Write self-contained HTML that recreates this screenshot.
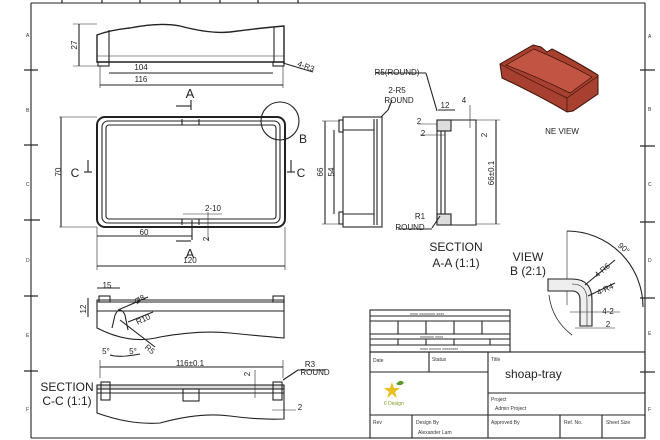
<!DOCTYPE html>
<html><head><meta charset="utf-8"><style>
html,body{margin:0;padding:0;background:#fff;}
svg{display:block;font-family:"Liberation Sans",sans-serif;}
</style></head><body>
<svg width="660" height="440" viewBox="0 0 660 440" xmlns="http://www.w3.org/2000/svg">
<rect width="660" height="440" fill="#fff"/>
<g stroke="#222" fill="none" stroke-width="1.1">
<!-- frame -->
<line x1="31" y1="3" x2="31" y2="438"/>
<line x1="31" y1="3" x2="645" y2="3"/>
<line x1="645" y1="3" x2="645" y2="438"/>
<line x1="31" y1="438" x2="645" y2="438"/>
<g stroke-width="1.2">
<line x1="24" y1="70" x2="38" y2="70"/><line x1="24" y1="145" x2="38" y2="145"/><line x1="24" y1="220" x2="40" y2="220"/>
<line x1="24" y1="296" x2="38" y2="296"/><line x1="24" y1="371" x2="38" y2="371"/>
<line x1="640" y1="70" x2="655" y2="70"/><line x1="640" y1="146" x2="655" y2="146"/><line x1="640" y1="222" x2="655" y2="222"/>
<line x1="640" y1="298" x2="655" y2="298"/><line x1="640" y1="372" x2="655" y2="372"/>
<line x1="62" y1="0" x2="62" y2="3"/><line x1="102" y1="0" x2="102" y2="3"/><line x1="140" y1="0" x2="140" y2="3"/><line x1="180" y1="0" x2="180" y2="3"/><line x1="220" y1="0" x2="220" y2="3"/><line x1="258" y1="0" x2="258" y2="3"/><line x1="298" y1="0" x2="298" y2="3"/>
</g>
<!-- top side view -->
<path d="M97 62 V35 Q110 30 130 28 Q160 22 180 26 Q210 34 230 32 Q260 28 284 26 V62 Z" stroke-width="1.4"/>
<line x1="109" y1="30" x2="109" y2="62"/><line x1="274" y1="27" x2="274" y2="62"/>
<rect x="98" y="62" width="11" height="4"/><rect x="273" y="62" width="11" height="4"/>
<line x1="97" y1="56" x2="284" y2="56" stroke-width=".6"/>
<line x1="73" y1="24" x2="97" y2="24" stroke-width=".6"/><line x1="73" y1="66" x2="98" y2="66" stroke-width=".6"/>
<line x1="79" y1="24" x2="79" y2="66"/>
<line x1="109" y1="73" x2="273" y2="73"/><line x1="100" y1="85" x2="283" y2="85"/>
<line x1="100" y1="66" x2="100" y2="88" stroke-width=".6"/><line x1="283" y1="66" x2="283" y2="88" stroke-width=".6"/>
<line x1="283" y1="63" x2="313" y2="72"/>
<!-- plan view -->
<rect x="97" y="117" width="188" height="110" rx="8" stroke-width="2"/>
<rect x="102" y="121" width="178" height="102" rx="6"/>
<rect x="106" y="125" width="170" height="94" rx="3"/>
<path d="M182 119 V125 H199 V119"/><path d="M182 225 V219 H199 V225"/>
<line x1="59" y1="117" x2="97" y2="117" stroke-width=".6"/><line x1="59" y1="227" x2="97" y2="227" stroke-width=".6"/>
<line x1="61" y1="117" x2="61" y2="227"/>
<line x1="97" y1="236" x2="192" y2="236"/><line x1="97" y1="227" x2="97" y2="270" stroke-width=".6"/><line x1="285" y1="227" x2="285" y2="270" stroke-width=".6"/>
<line x1="97" y1="266" x2="285" y2="266"/>
<line x1="192" y1="220" x2="192" y2="240"/><line x1="183" y1="214" x2="222" y2="214" stroke-width=".6"/>
<line x1="208" y1="212" x2="208" y2="240" stroke-width=".6"/>
<line x1="176" y1="106" x2="191" y2="106"/><line x1="191" y1="100" x2="191" y2="110"/>
<line x1="176" y1="241" x2="191" y2="241"/>
<line x1="88" y1="160" x2="88" y2="172"/><line x1="84" y1="172" x2="92" y2="172"/>
<line x1="291" y1="160" x2="291" y2="172"/><line x1="287" y1="172" x2="295" y2="172"/>
<circle cx="280" cy="121" r="19"/>
<!-- side elevation -->
<rect x="343" y="117" width="39" height="110"/>
<rect x="339" y="120" width="4" height="12"/><rect x="339" y="212" width="4" height="12"/>
<line x1="374" y1="119" x2="374" y2="225"/><line x1="377" y1="119" x2="377" y2="225"/>
<line x1="343" y1="130" x2="374" y2="130"/><line x1="343" y1="214" x2="374" y2="214"/>
<line x1="322" y1="121" x2="340" y2="121" stroke-width=".6"/><line x1="322" y1="224" x2="340" y2="224" stroke-width=".6"/>
<line x1="325" y1="121" x2="325" y2="224"/><line x1="334" y1="130" x2="334" y2="214"/>
<line x1="381" y1="117" x2="388" y2="110"/><line x1="388" y1="110" x2="392" y2="100"/>
<!-- section A-A -->
<path d="M437 120 H476 V225 H437 Z"/>
<path d="M441 120 V225 M445 131 V219" />
<rect x="437" y="120" width="14" height="11" fill="#ddd"/>
<rect x="437" y="214" width="14" height="11" fill="#ddd"/>
<line x1="441" y1="131" x2="445" y2="131"/>
<line x1="496" y1="120" x2="496" y2="224"/><line x1="476" y1="120" x2="500" y2="120" stroke-width=".6"/><line x1="476" y1="224" x2="500" y2="224" stroke-width=".6"/>
<line x1="438" y1="110" x2="455" y2="110"/><line x1="470" y1="105" x2="470" y2="128" stroke-width=".6"/>
<line x1="418" y1="124" x2="437" y2="124" stroke-width=".6"/><line x1="420" y1="135" x2="445" y2="135" stroke-width=".6"/>
<line x1="426" y1="73" x2="437" y2="111"/><line x1="376" y1="73" x2="426" y2="73"/>
<line x1="440" y1="216" x2="432" y2="228"/><line x1="398" y1="229" x2="432" y2="229"/>
<!-- NE view 3D -->
<path d="M500 64 L533 45 L541 47 L547 52 L552 49 Q570 58 598 75 V94 L573 111 L567 112 Q540 96 502 78 Z" fill="#a8402f" stroke="#3a120c" stroke-width="1"/>
<path d="M506 65 L534 49 Q565 62 592 77 L570 93 Q540 78 506 65 Z" fill="#c25443" stroke="#3a120c" stroke-width=".7"/>
<path d="M500 64 Q530 80 567 98 L598 76" stroke="#3a120c" stroke-width=".7"/>
<line x1="567" y1="98" x2="567" y2="112" stroke="#3a120c" stroke-width=".7"/>
<!-- View B -->
<path d="M567 231 A76 76 0 0 1 643 307"/>
<path d="M549 295 Q552 320 572 335" stroke-width=".8"/>
<line x1="567" y1="231" x2="567" y2="305" stroke-width=".6"/>
<path d="M548 279 H572 Q592 279 592 300 V326 H580 V300 Q580 291 572 291 H548 Z" fill="#eee"/>
<path d="M572 284 Q587 284 587 300 V326" stroke-width=".6"/>
<line x1="585" y1="285" x2="615" y2="260"/><line x1="588" y1="296" x2="615" y2="283"/>
<line x1="570" y1="312" x2="620" y2="312" stroke-width=".6"/><line x1="575" y1="328" x2="615" y2="328" stroke-width=".6"/>
<!-- bottom side view -->
<path d="M97 300 V328 Q130 345 160 337 Q200 330 230 333 Q260 336 284 338 V300 Z"/>
<line x1="97" y1="302" x2="284" y2="302"/><line x1="97" y1="311" x2="284" y2="311"/>
<rect x="99" y="296" width="11" height="6"/><rect x="273" y="296" width="11" height="6"/>
<path d="M112 328 L115 315 Q120 305 125 315 L128 330"/>
<line x1="97" y1="288" x2="120" y2="288"/><line x1="88" y1="298" x2="88" y2="317"/>
<line x1="118" y1="310" x2="148" y2="297"/><line x1="128" y1="322" x2="153" y2="312"/><line x1="120" y1="320" x2="155" y2="347"/>
<path d="M110 355 Q120 358 140 354"/>
<!-- section C-C -->
<line x1="100" y1="367" x2="283" y2="367"/>
<line x1="100" y1="360" x2="100" y2="378" stroke-width=".6"/><line x1="283" y1="360" x2="283" y2="378" stroke-width=".6"/>
<path d="M97 386 V413 Q130 425 160 423 Q200 412 230 416 Q260 420 284 419 V386 Z"/>
<rect x="97" y="385" width="187" height="4" fill="#ddd"/>
<line x1="97" y1="393" x2="284" y2="393"/>
<rect x="183" y="389" width="16" height="12"/>
<rect x="101" y="382" width="9" height="18"/><rect x="273" y="382" width="9" height="18"/>
<line x1="255" y1="370" x2="255" y2="398" stroke-width=".6"/>
<line x1="283" y1="380" x2="298" y2="370"/><line x1="298" y1="370" x2="325" y2="370"/>
<line x1="272" y1="410" x2="296" y2="410" stroke-width=".6"/>
<!-- title block -->
<rect x="370" y="310" width="140" height="42"/>
<line x1="370" y1="316" x2="510" y2="316"/><line x1="370" y1="321" x2="510" y2="321"/><line x1="370" y1="334" x2="510" y2="334"/><line x1="370" y1="339" x2="510" y2="339"/><line x1="370" y1="345" x2="510" y2="345"/>
<line x1="398" y1="321" x2="398" y2="334"/><line x1="426" y1="321" x2="426" y2="334"/><line x1="454" y1="321" x2="454" y2="334"/><line x1="482" y1="321" x2="482" y2="334"/>
<line x1="398" y1="339" x2="398" y2="345"/><line x1="426" y1="339" x2="426" y2="345"/><line x1="454" y1="339" x2="454" y2="345"/><line x1="490" y1="339" x2="490" y2="345"/>
<rect x="370" y="352" width="275" height="86"/>
<line x1="429" y1="352" x2="429" y2="372"/><line x1="370" y1="372" x2="488" y2="372"/>
<line x1="488" y1="352" x2="488" y2="438"/><line x1="488" y1="393" x2="645" y2="393"/>
<line x1="370" y1="415" x2="645" y2="415"/>
<line x1="412" y1="415" x2="412" y2="438"/><line x1="560" y1="415" x2="560" y2="438"/><line x1="602" y1="415" x2="602" y2="438"/>
</g>
<g fill="#222" font-size="8" text-anchor="middle">
<text x="141" y="70">104</text><text x="141" y="82">116</text>
<text x="190" y="98" font-size="13">A</text><text x="190" y="258" font-size="13">A</text>
<text x="75" y="177" font-size="12">C</text><text x="301" y="177" font-size="12">C</text>
<text x="303" y="143" font-size="12">B</text>
<text x="144" y="235">60</text><text x="190" y="263">120</text><text x="213" y="211">2-10</text>
<text x="74" y="48" transform="rotate(-90 74 45)">27</text>
<text x="58" y="175" transform="rotate(-90 58 172)">70</text>
<text x="320" y="175" transform="rotate(-90 320 172)">66</text>
<text x="331" y="175" transform="rotate(-90 331 172)">54</text>
<text x="206" y="242" transform="rotate(-90 206 239)">2</text>
<text x="306" y="69" transform="rotate(20 306 66)">4-R3</text>
<text x="397" y="75">R5(ROUND)</text><text x="397" y="93">2-R5</text><text x="399" y="103">ROUND</text>
<text x="445" y="108">12</text><text x="464" y="103">4</text><text x="419" y="124">2</text><text x="423" y="136">2</text>
<text x="484" y="138" transform="rotate(-90 484 135)">2</text>
<text x="491" y="176" transform="rotate(-90 491 173)">66±0.1</text>
<text x="420" y="219">R1</text><text x="410" y="230">ROUND</text>
<text x="456" y="251" font-size="12">SECTION</text><text x="456" y="267" font-size="12">A-A (1:1)</text>
<text x="562" y="134">NE VIEW</text>
<text x="528" y="261" font-size="12">VIEW</text><text x="528" y="275" font-size="12">B (2:1)</text>
<text x="624" y="251" transform="rotate(40 624 248)">90°</text>
<text x="602" y="273" transform="rotate(-40 602 270)">4-R6</text>
<text x="605" y="292" transform="rotate(-25 605 289)">4-R4</text>
<text x="608" y="314">4-2</text><text x="608" y="327">2</text>
<text x="107" y="288">15</text><text x="83" y="312" transform="rotate(-90 83 309)">12</text>
<text x="140" y="302" transform="rotate(-30 140 300)">Ø8</text>
<text x="143" y="322" transform="rotate(-25 143 319)">R10</text>
<text x="150" y="352" transform="rotate(40 150 349)">R5</text>
<text x="106" y="354">5°</text><text x="133" y="354">5°</text>
<text x="190" y="366">116±0.1</text>
<text x="247" y="377" transform="rotate(-90 247 374)">2</text>
<text x="310" y="367">R3</text><text x="315" y="375">ROUND</text><text x="300" y="410">2</text>
<text x="67" y="391" font-size="12">SECTION</text><text x="67" y="405" font-size="12">C-C (1:1)</text>
</g>
<g fill="#333" font-size="5">
<text x="26" y="37">A</text><text x="26" y="112">B</text><text x="26" y="186">C</text><text x="26" y="262">D</text><text x="26" y="337">E</text><text x="26" y="411">F</text>
<text x="648" y="38">A</text><text x="648" y="111">B</text><text x="648" y="186">C</text><text x="648" y="262">D</text><text x="648" y="335">E</text><text x="648" y="411">F</text>
<text x="373" y="362">Date</text><text x="432" y="361">Status</text><text x="491" y="361">Title</text>
<text x="491" y="401">Project</text><text x="495" y="410">Admin Project</text>
<text x="373" y="424">Rev</text><text x="416" y="424">Design By</text><text x="418" y="434">Alexander Lam</text>
<text x="491" y="424">Approved By</text><text x="564" y="424">Ref. No.</text><text x="606" y="424">Sheet Size</text>
<text x="410" y="315" font-size="4">xxxx xxxxxxxx xxxx</text><text x="420" y="338" font-size="4">xxxxxxx xxxx</text><text x="420" y="350" font-size="4">xxxx xxxxxx xxxxxxxx</text>
</g>
<text x="505" y="378" font-size="12" fill="#222" font-family="Liberation Sans,sans-serif">shoap-tray</text>
<polygon points="392,382 394,388 400,388 395,392 397,398 392,394 387,398 389,392 384,388 390,388" fill="#e8c020"/>
<path d="M396 384 Q401 378 404 383 Q400 387 396 384Z" fill="#5a9a30"/>
<text x="384" y="405" font-size="5" fill="#7a9a20">6 Design</text>
</svg>
</body></html>
